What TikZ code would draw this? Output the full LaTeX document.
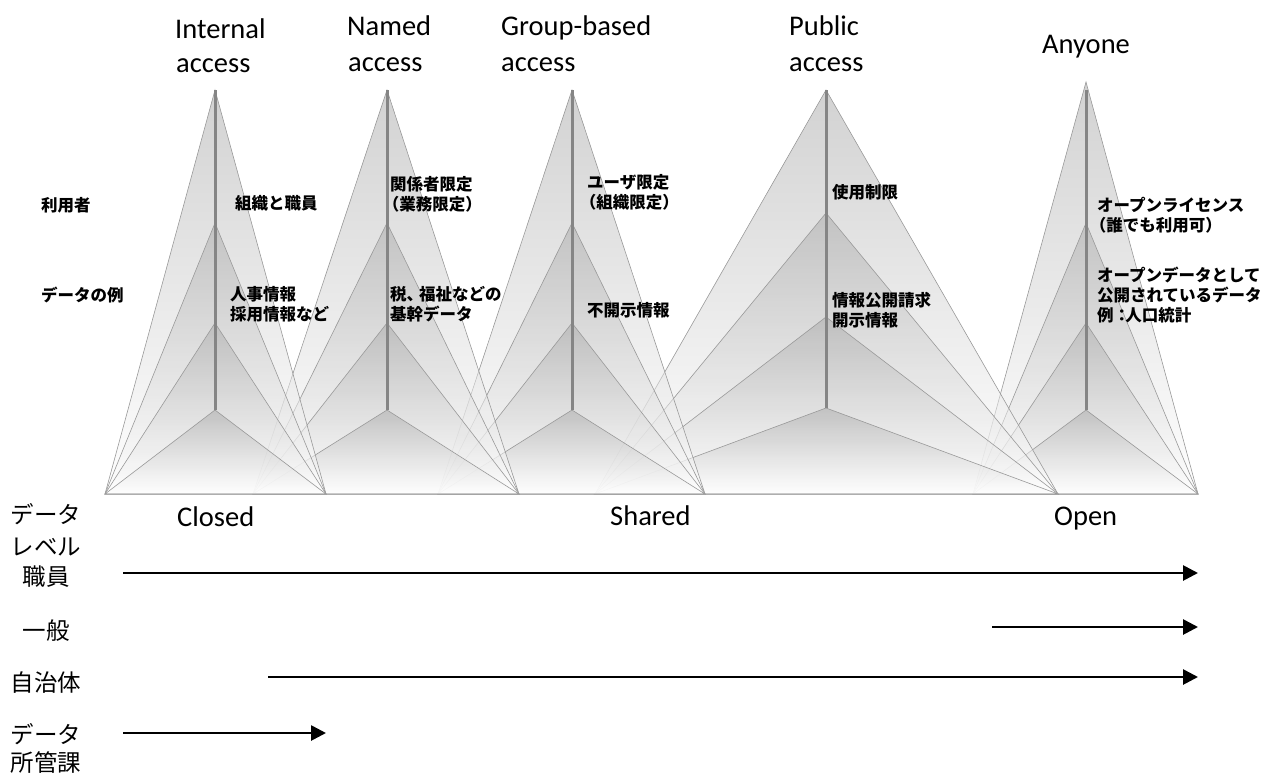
\documentclass[tikz,border=0pt]{standalone}
\usepackage{fontspec}
\setmainfont{Carlito}
\newfontfamily\jp{Noto Sans CJK JP}
\usetikzlibrary{arrows.meta}

% One access pyramid: four nested faces sharing the base corners, plus the stem.
% #1 centre x, #2 left base x, #3 right base x, #4-#7 apex heights (outer to floor), #8 stem top
\newcommand\drawpyramid[8]{%
  \foreach \ay in {#4,#5,#6,#7}{%
    \path[face] (#1,\ay) -- (#3,494) -- (#2,494) -- cycle;
  }
  \draw[stem] (#1,#8) -- (#1,#7);
}

\begin{document}
\begin{tikzpicture}[x=1pt,y=-1pt,
  face/.style={top color=black!35, bottom color=white, fill opacity=0.5,
               draw=black!40, line width=0.6pt},
  stem/.style={draw=black!48, line width=3pt},
  head/.style={font=\fontsize{28.5}{34}\selectfont, inner sep=0pt, anchor=base west},
  tag/.style={font=\jp\bfseries\fontsize{16.5}{20}\selectfont, inner sep=0pt,
              anchor=west, align=left},
  side/.style={font=\jp\fontsize{23.5}{28}\selectfont, inner sep=0pt},
  level/.style={-{Triangle[length=15pt,width=15pt]}, line width=2.7pt}
]
\useasboundingbox (0,0) rectangle (1268,776);

% pyramids, drawn from right to left so the left ones lie on top
\drawpyramid{1086}{973}{1198}{82}{223}{323}{410}{90}
\drawpyramid{826}{595}{1058}{90}{213}{317}{408}{90}
\drawpyramid{572}{438}{705}{90}{223}{323}{410}{90}
\drawpyramid{387}{253}{519}{90}{223}{323}{410}{90}
\drawpyramid{215}{105}{326}{90}{223}{323}{410}{90}

% access type headings
\node[head] (int1) at (175,38) {Internal};
\node[head] (int2) at (176,73) {access};
\node[head] (nam1) at (347,36) {Named};
\node[head] (nam2) at (348,71) {access};
\node[head] (grp1) at (501,36) {Group-based};
\node[head] (grp2) at (501,71) {access};
\node[head] (pub1) at (789,36) {Public};
\node[head] (pub2) at (789,71) {access};
\node[head] (any1) at (1042,53) {Anyone};

% row captions and pyramid tags
\node[tag] (user0) at (41,205) {利用者};
\node[tag] (data0) at (41,295) {データの例};
\node[tag] (user1) at (235,203) {組織と職員};
\node[tag] (data1) at (230,304) {人事情報\\採用情報など};
\node[tag] (user2) at (390,194) {関係者限定\\\hspace*{-0.45em}（業務限定）};
\node[tag] (data2) at (390,304) {税、\hspace{-0.25em}福祉などの\\基幹データ};
\node[tag] (user3) at (587,192) {ユーザ限定\\\hspace*{-0.45em}（組織限定）};
\node[tag] (data3) at (587,310) {不開示情報};
\node[tag] (user4) at (832,192) {使用制限};
\node[tag] (data4) at (832,310) {情報公開請求\\開示情報};
\node[tag] (user5) at (1097,215) {オープンライセンス\\\hspace*{-0.45em}（誰でも利用可）};
\node[tag] (data5) at (1097,295) {オープンデータとして\\公開されているデータ\\例：\hspace{-0.3em}人口統計};

% openness scale
\node[head] (closed) at (177,526) {Closed};
\node[head] (shared) at (610,525) {Shared};
\node[head] (open)   at (1054,525) {Open};

% data level rows
\node[side] (lvA) at (46,514) {データ};
\node[side] (lvB) at (46,547) {レベル};
\node[side] (staff) at (46,577) {職員};
\node[side] (public) at (46,631) {一般};
\node[side] (gov) at (46,683) {自治体};
\node[side] (ownA) at (46,734) {データ};
\node[side] (ownB) at (46,763) {所管課};

\coordinate (staffS) at (123,573);  \coordinate (staffE) at (1198,573);
\coordinate (publicS) at (992,627); \coordinate (publicE) at (1198,627);
\coordinate (govS) at (268,677);    \coordinate (govE) at (1198,677);
\coordinate (ownS) at (123,733);    \coordinate (ownE) at (326,733);

\draw[level] (staffS) -- (staffE);
\draw[level] (publicS) -- (publicE);
\draw[level] (govS) -- (govE);
\draw[level] (ownS) -- (ownE);
\end{tikzpicture}
\end{document}
